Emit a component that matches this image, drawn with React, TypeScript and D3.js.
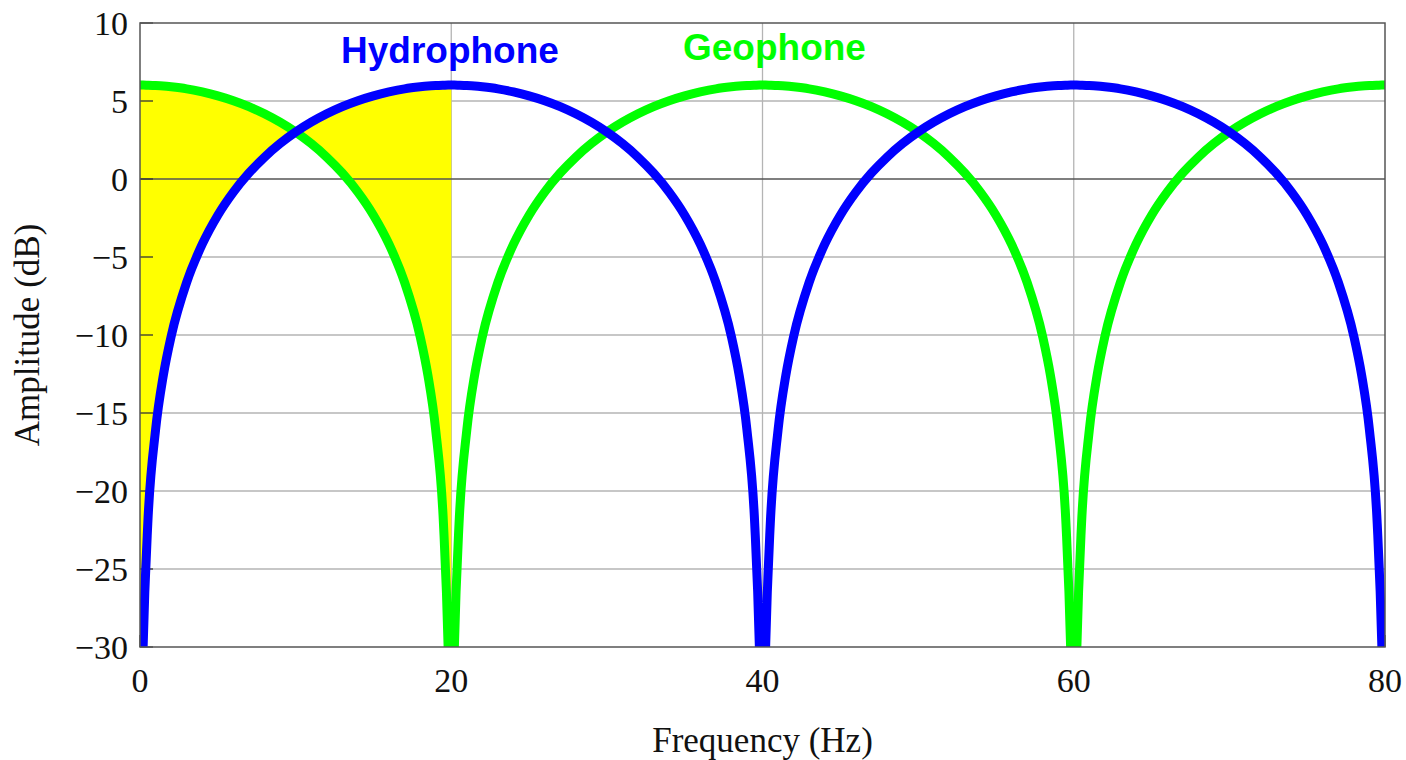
import React from 'react';
import * as d3 from 'd3';

// frequency samples (Hz), denser near the notches
const freqs = [
  0, 0.2, 0.5, 1, 1.5, 2, 3, 4, 5, 6, 7, 8, 9, 10, 11, 12, 13, 14, 15, 16, 17, 18, 18.5, 19, 19.5, 19.8,
  20, 20.2, 20.5, 21, 21.5, 22, 23, 24, 25, 26, 27, 28, 29, 30, 31, 32, 33, 34, 35, 36, 37, 38, 38.5, 39, 39.5, 39.8,
  40, 40.2, 40.5, 41, 41.5, 42, 43, 44, 45, 46, 47, 48, 49, 50, 51, 52, 53, 54, 55, 56, 57, 58, 58.5, 59, 59.5, 59.8,
  60, 60.2, 60.5, 61, 61.5, 62, 63, 64, 65, 66, 67, 68, 69, 70, 71, 72, 73, 74, 75, 76, 77, 78, 78.5, 79, 79.5, 79.8,
  80,
];

// amplitude (dB)
const hydrophone = [
  -40, -30.06, -22.1, -16.09, -12.58, -10.09, -6.62, -4.18, -2.32, -0.84, 0.38, 1.4, 2.27, 3.01, 3.64, 4.18, 4.64, 5.02, 5.33, 5.58, 5.78, 5.91, 5.96, 5.99, 6.01, 6.02,
  6.02, 6.02, 6.01, 5.99, 5.96, 5.91, 5.78, 5.58, 5.33, 5.02, 4.64, 4.18, 3.64, 3.01, 2.27, 1.4, 0.38, -0.84, -2.32, -4.18, -6.62, -10.09, -12.58, -16.09, -22.1, -30.06,
  -40, -30.06, -22.1, -16.09, -12.58, -10.09, -6.62, -4.18, -2.32, -0.84, 0.38, 1.4, 2.27, 3.01, 3.64, 4.18, 4.64, 5.02, 5.33, 5.58, 5.78, 5.91, 5.96, 5.99, 6.01, 6.02,
  6.02, 6.02, 6.01, 5.99, 5.96, 5.91, 5.78, 5.58, 5.33, 5.02, 4.64, 4.18, 3.64, 3.01, 2.27, 1.4, 0.38, -0.84, -2.32, -4.18, -6.62, -10.09, -12.58, -16.09, -22.1, -30.06,
  -40,
];

// amplitude (dB)
const geophone = [
  6.02, 6.02, 6.01, 5.99, 5.96, 5.91, 5.78, 5.58, 5.33, 5.02, 4.64, 4.18, 3.64, 3.01, 2.27, 1.4, 0.38, -0.84, -2.32, -4.18, -6.62, -10.09, -12.58, -16.09, -22.1, -30.06,
  -40, -30.06, -22.1, -16.09, -12.58, -10.09, -6.62, -4.18, -2.32, -0.84, 0.38, 1.4, 2.27, 3.01, 3.64, 4.18, 4.64, 5.02, 5.33, 5.58, 5.78, 5.91, 5.96, 5.99, 6.01, 6.02,
  6.02, 6.02, 6.01, 5.99, 5.96, 5.91, 5.78, 5.58, 5.33, 5.02, 4.64, 4.18, 3.64, 3.01, 2.27, 1.4, 0.38, -0.84, -2.32, -4.18, -6.62, -10.09, -12.58, -16.09, -22.1, -30.06,
  -40, -30.06, -22.1, -16.09, -12.58, -10.09, -6.62, -4.18, -2.32, -0.84, 0.38, 1.4, 2.27, 3.01, 3.64, 4.18, 4.64, 5.02, 5.33, 5.58, 5.78, 5.91, 5.96, 5.99, 6.01, 6.02,
  6.02,
];

const xTicks = [0, 20, 40, 60, 80];
const yTicks = [10, 5, 0, -5, -10, -15, -20, -25, -30];
const shadeEnd = 20; // yellow band: 0–20 Hz

const W = 1406;
const H = 760;
const margin = { top: 23, right: 21, bottom: 113, left: 140 };
const serif = '"Liberation Serif", "Times New Roman", serif';
const sans = '"Liberation Sans", Arial, sans-serif';

const fmt = (v: number) => (v < 0 ? '\u2212' + Math.abs(v) : String(v));

export default function App() {
  const iw = W - margin.left - margin.right;
  const ih = H - margin.top - margin.bottom;

  const x = d3.scaleLinear().domain([0, 80]).range([0, iw]);
  const y = d3.scaleLinear().domain([-30, 10]).range([ih, 0]);

  const rows = freqs.map((f, i) => ({ f, h: hydrophone[i], g: geophone[i] }));

  const line = (key: 'h' | 'g') =>
    d3.line<any>().x(d => x(d.f)).y(d => y(d[key])).curve(d3.curveMonotoneX)(rows) || '';

  const area = d3.area<any>()
    .x(d => x(d.f))
    .y0(d => y(d.h))
    .y1(d => y(d.g))
    .curve(d3.curveMonotoneX)(rows.filter(d => d.f <= shadeEnd)) || '';

  return (
    <svg width={W} height={H} style={{ position: 'absolute', left: 0, top: 0, background: '#fff' }}>
      <defs>
        <clipPath id="plot">
          <rect x={0} y={0} width={iw} height={ih} />
        </clipPath>
      </defs>
      <g transform={`translate(${margin.left},${margin.top})`}>
        {/* light grid */}
        {yTicks.filter(t => t !== 0 && t !== 10 && t !== -30).map(t => (
          <line key={'gy' + t} x1={0} x2={iw} y1={y(t)} y2={y(t)} stroke="#b4b4b4" strokeWidth={1.3} />
        ))}
        {xTicks.slice(1, -1).map(t => (
          <line key={'gx' + t} x1={x(t)} x2={x(t)} y1={0} y2={ih} stroke="#b4b4b4" strokeWidth={1.3} />
        ))}

        <g clipPath="url(#plot)">
          <path d={area} fill="#ffff00" />
        </g>

        {/* zero line */}
        <line x1={0} x2={iw} y1={y(0)} y2={y(0)} stroke="#555" strokeWidth={1.4} />

        {/* ticks */}
        {yTicks.map(t => (
          <line key={'ty' + t} x1={0} x2={13} y1={y(t)} y2={y(t)} stroke="#333" strokeWidth={1.3} />
        ))}
        {xTicks.map(t => (
          <line key={'tx' + t} x1={x(t)} x2={x(t)} y1={ih} y2={ih - 12} stroke="#333" strokeWidth={1.3} />
        ))}

        <g clipPath="url(#plot)">
          <path d={line('g')} fill="none" stroke="#00ff00" strokeWidth={9} />
          <path d={line('h')} fill="none" stroke="#0000ff" strokeWidth={9} />
        </g>

        {/* frame */}
        <rect x={0} y={0} width={iw} height={ih} fill="none" stroke="#555" strokeWidth={1.5} />

        {/* tick labels */}
        {yTicks.map(t => (
          <text key={'ly' + t} x={-12} y={y(t) + 12} textAnchor="end" fontFamily={serif} fontSize={34} fill="#111">
            {fmt(t)}
          </text>
        ))}
        {xTicks.map(t => (
          <text key={'lx' + t} x={x(t)} y={ih + 45} textAnchor="middle" fontFamily={serif} fontSize={34} fill="#111">
            {fmt(t)}
          </text>
        ))}

        {/* series labels */}
        <text x={341 - margin.left} y={63 - margin.top} fontFamily={sans} fontWeight="bold" fontSize={37} fill="#0000ff">
          Hydrophone
        </text>
        <text x={683 - margin.left} y={60 - margin.top} fontFamily={sans} fontWeight="bold" fontSize={37} fill="#00ff00">
          Geophone
        </text>
      </g>

      {/* axis titles */}
      <text x={margin.left + iw / 2} y={752} textAnchor="middle" fontFamily={serif} fontSize={35} fill="#111">
        Frequency (Hz)
      </text>
      <text
        transform={`translate(39,${margin.top + ih / 2}) rotate(-90)`}
        textAnchor="middle"
        fontFamily={serif}
        fontSize={35}
        fill="#111"
      >
        Amplitude (dB)
      </text>
    </svg>
  );
}
